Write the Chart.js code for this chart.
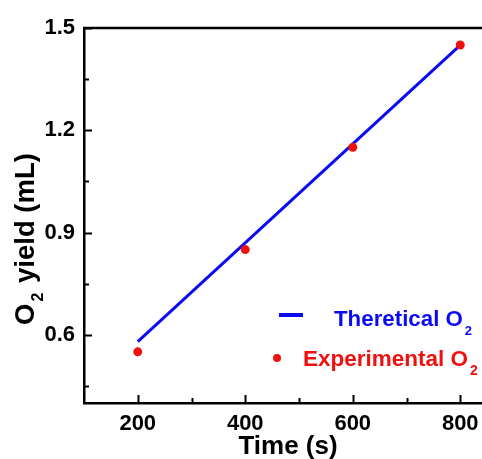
<!DOCTYPE html>
<html>
<head>
<meta charset="utf-8">
<script src="https://cdn.jsdelivr.net/npm/chart.js@4"></script>
<style>
  html, body { margin: 0; padding: 0; background: #fff; overflow: hidden; }
  #wrap { position: relative; width: 540px; height: 459px; }
</style>
</head>
<body>
<div id="wrap"><canvas id="chart"></canvas></div>
<script>
// O2 yield vs time: measured points against the theoretical straight line.
const TIME = [200, 400, 600, 800];
const EXPERIMENTAL = [0.55, 0.85, 1.15, 1.45];
const THEORY_TIME = [200, 800];
const THEORETICAL = [0.58, 1.45];

const X_TICKS = [200, 400, 600, 800];
const X_MINOR = [300, 500, 700];
const Y_TICKS = [0.6, 0.9, 1.2, 1.5];
const Y_MINOR = [0.45, 0.75, 1.05, 1.35];

const X_TITLE = 'Time (s)';
const Y_TITLE = ['O', '2', ' yield (mL)'];       // main, subscript, rest
const LEGEND = [['Theretical O', '2'], ['Experimental O', '2']];

const BLUE = '#0a0af5';
const RED = '#f01010';
const FONT = "'Liberation Sans', Arial, sans-serif";

const pts = (xs, ys) => xs.map((x, i) => ({ x, y: ys[i] }));

// frame, inward ticks, legend and titles (with subscripts)
const decor = {
    id: 'decor',
    afterDraw(chart) {
        const { ctx, chartArea: a, scales: { x, y } } = chart;
        ctx.save();
        ctx.strokeStyle = '#000';
        ctx.lineWidth = 2.5;
        ctx.beginPath();
        ctx.moveTo(a.left - 1, a.top);
        ctx.lineTo(a.right, a.top);
        ctx.lineTo(a.right, a.bottom);
        ctx.stroke();

        ctx.lineWidth = 2;
        const tickX = (v, len) => {
            const px = Math.round(x.getPixelForValue(v)) + 0.5;
            ctx.beginPath(); ctx.moveTo(px, a.bottom); ctx.lineTo(px, a.bottom - len); ctx.stroke();
        };
        const tickY = (v, len) => {
            const py = Math.round(y.getPixelForValue(v)) + 0.5;
            ctx.beginPath(); ctx.moveTo(a.left, py); ctx.lineTo(a.left + len, py); ctx.stroke();
        };
        X_TICKS.forEach(v => tickX(v, 8));
        X_MINOR.forEach(v => tickX(v, 5));
        Y_TICKS.forEach(v => tickY(v, 8));
        Y_MINOR.forEach(v => tickY(v, 5));

        // legend inside the plot, lower right
        ctx.textBaseline = 'alphabetic';
        ctx.textAlign = 'left';
        const drawSub = (main, sub, tx, ty, size, color) => {
            ctx.fillStyle = color;
            ctx.font = `bold ${size}px ${FONT}`;
            ctx.fillText(main, tx, ty);
            const w = ctx.measureText(main).width;
            ctx.font = `bold ${Math.round(size * 0.6)}px ${FONT}`;
            ctx.fillText(sub, tx + w + 2, ty + size * 0.42);
        };
        ctx.strokeStyle = BLUE;
        ctx.lineWidth = 4;
        ctx.beginPath(); ctx.moveTo(279, 315); ctx.lineTo(303, 315); ctx.stroke();
        drawSub(LEGEND[0][0], LEGEND[0][1], 334, 326, 22.3, BLUE);
        ctx.fillStyle = RED;
        ctx.beginPath(); ctx.arc(277, 358, 4, 0, Math.PI * 2); ctx.fill();
        drawSub(LEGEND[1][0], LEGEND[1][1], 303, 366, 22.5, RED);

        // axis titles
        ctx.fillStyle = '#000';
        ctx.font = `bold 26px ${FONT}`;
        ctx.textAlign = 'center';
        ctx.fillText(X_TITLE, 288, 454);

        ctx.translate(34, 239);
        ctx.rotate(-Math.PI / 2);
        ctx.font = `bold 27.5px ${FONT}`;
        const w0 = ctx.measureText(Y_TITLE[0]).width;
        ctx.font = `bold 16px ${FONT}`;
        const w1 = ctx.measureText(Y_TITLE[1]).width;
        ctx.font = `bold 27.5px ${FONT}`;
        const w2 = ctx.measureText(Y_TITLE[2]).width;
        const sx = -(w0 + w1 + 4 + w2) / 2;
        ctx.textAlign = 'left';
        ctx.fillText(Y_TITLE[0], sx, 0);
        ctx.font = `bold 16px ${FONT}`;
        ctx.fillText(Y_TITLE[1], sx + w0 + 2, 9);
        ctx.font = `bold 27.5px ${FONT}`;
        ctx.fillText(Y_TITLE[2], sx + w0 + w1 + 4, 0);
        ctx.restore();
    }
};

new Chart(document.getElementById('chart'), {
    type: 'scatter',
    data: {
        datasets: [
            {
                label: 'Theretical O2',
                data: pts(THEORY_TIME, THEORETICAL),
                showLine: true,
                borderColor: BLUE,
                borderWidth: 3,
                pointRadius: 0,
                order: 2
            },
            {
                label: 'Experimental O2',
                data: pts(TIME, EXPERIMENTAL),
                backgroundColor: RED,
                borderColor: RED,
                pointRadius: 4.5,
                borderWidth: 0,
                order: 1
            }
        ]
    },
    options: {
        responsive: true,
        maintainAspectRatio: false,
        animation: false,
        devicePixelRatio: 1,
        layout: { padding: { top: 28, right: 26, left: 0, bottom: 0 } },
        plugins: { legend: { display: false }, tooltip: { enabled: false } },
        scales: {
            x: {
                type: 'linear',
                min: 100,
                max: 900,
                afterBuildTicks: s => { s.ticks = X_TICKS.map(value => ({ value })); },
                afterFit: s => { s.height = 56; },
                grid: { display: false },
                border: { display: true, color: '#000', width: 2.5 },
                ticks: { color: '#000', padding: 0, font: { family: FONT, size: 22, weight: 'bold' }, maxRotation: 0 }
            },
            y: {
                min: 0.4,
                max: 1.5,
                afterBuildTicks: s => { s.ticks = Y_TICKS.map(value => ({ value })); },
                afterFit: s => { s.width = 84; },
                grid: { display: false },
                border: { display: true, color: '#000', width: 2.5 },
                ticks: { color: '#000', padding: 1, font: { family: FONT, size: 22, weight: 'bold' }, callback: v => Number(v).toFixed(1) }
            }
        }
    },
    plugins: [decor]
});
</script>
</body>
</html>
